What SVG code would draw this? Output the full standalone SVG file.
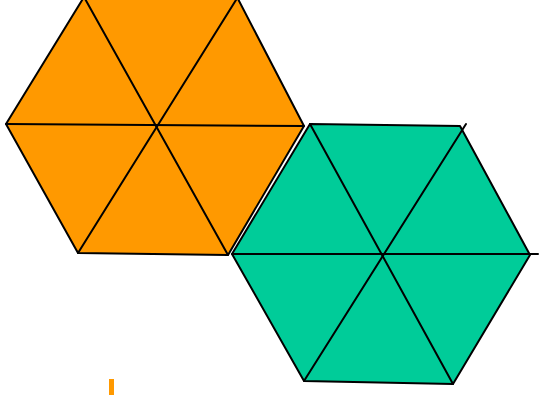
<svg xmlns="http://www.w3.org/2000/svg" width="539" height="395" viewBox="0 0 539 395">
<style>
.edge{stroke:#000;stroke-width:2;fill:none;stroke-linecap:round;stroke-linejoin:round}
</style>
<rect width="539" height="395" fill="#fff"/>
<g id="hex-orange">
<polygon class="edge" style="fill:#FF9900" points="6,124 84,-3 237,-3 304,126 228,255 78,253"/>
<line class="edge" x1="6" y1="124" x2="304" y2="126"/>
<line class="edge" x1="84" y1="-3" x2="228" y2="255"/>
<line class="edge" x1="236" y1="0" x2="78" y2="253"/>
</g>
<g id="hex-green">
<polygon class="edge" style="fill:#00CC99" points="232,254 310,124 460,126 530,255 453,384 304,381"/>
<line class="edge" x1="232" y1="254" x2="538" y2="254"/>
<line class="edge" x1="310" y1="124" x2="453" y2="384"/>
<line class="edge" x1="466" y1="124" x2="304" y2="381"/>
</g>
<rect id="mark" x="109" y="379" width="5" height="16" fill="#FF9900"/>
</svg>
